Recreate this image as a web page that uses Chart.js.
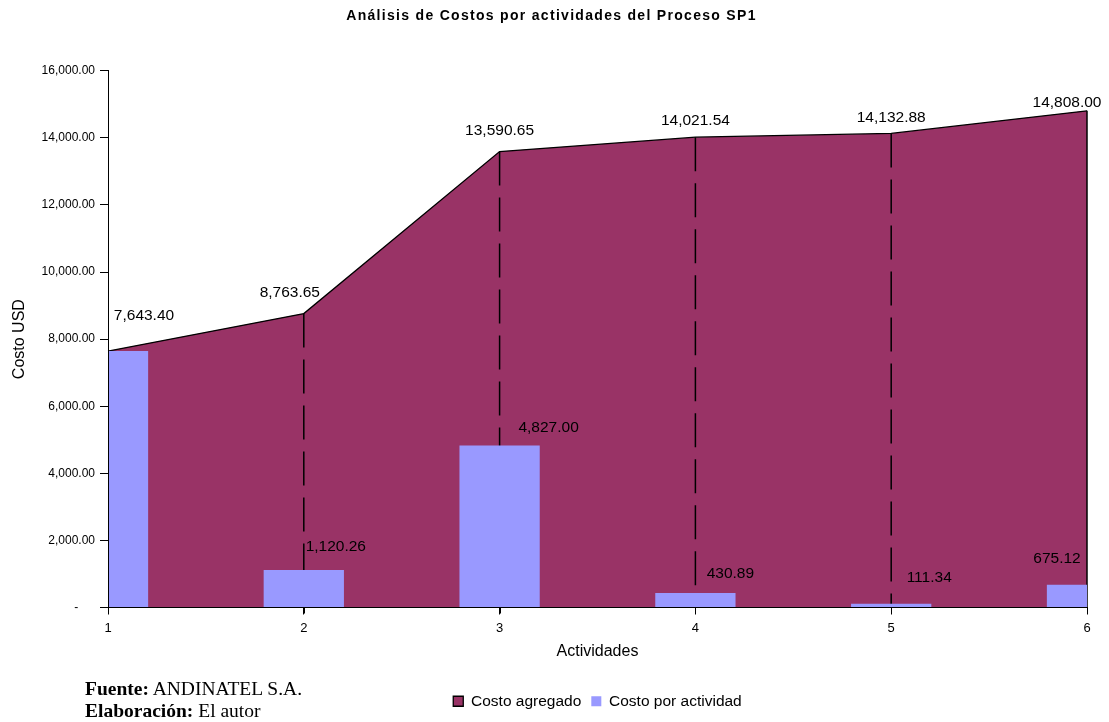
<!DOCTYPE html>
<html><head><meta charset="utf-8">
<script src="https://cdn.jsdelivr.net/npm/chart.js@4.4.1/dist/chart.umd.min.js"></script>
<style>
html,body{margin:0;padding:0;background:#fff;}
#wrap{position:relative;width:1109px;height:722px;}
#note{position:absolute;left:85px;top:678px;font-family:"Liberation Serif","Times New Roman",serif;font-size:19.5px;line-height:22px;color:#000;white-space:nowrap;}
</style></head><body>
<div id="wrap"><canvas id="c" width="1109" height="722"></canvas>
<div id="note"><b>Fuente:</b> ANDINATEL S.A.<br><b>Elaboración:</b> El autor</div></div>
<script>
const categories = ['1', '2', '3', '4', '5', '6'];
const costoAgregado = [7643.40, 8763.65, 13590.65, 14021.54, 14132.88, 14808.00];
const costoActividad = [7643.40, 1120.26, 4827.00, 430.89, 111.34, 675.12];
const seriesNames = ['Costo agregado', 'Costo por actividad'];
const yMin = 0, yMax = 16000, yStep = 2000;

const fmt = v => v.toLocaleString('en-US', {minimumFractionDigits: 2, maximumFractionDigits: 2});
const areaLabelOffset = [[36, -35], [-14, -21], [0, -21], [0, -16], [0, -16], [-20, -8]];
const barLabelOffset = [null, [32, -23], [49, -18], [35, -19], [38, -26], [-30, -26]];

Chart.defaults.font.family = "'Liberation Sans', Arial, sans-serif";
Chart.defaults.color = '#000';

const titleSpacing = {
  id: 'titleSpacing',
  afterLayout(chart) {
    const tb = chart.titleBlock;
    if (tb && !tb._spaced) {
      const orig = tb.draw.bind(tb);
      tb.draw = function (area) {
        const ctx = this.ctx;
        ctx.save();
        ctx.letterSpacing = '1.3px';
        ctx.translate(8, 0);
        orig(area);
        ctx.restore();
      };
      tb._spaced = true;
    }
  }
};

const xTickMarks = {
  id: 'xTickMarks',
  afterDraw(chart) {
    const xs = chart.scales.x;
    const ctx = chart.ctx;
    const y0 = chart.chartArea.bottom;
    ctx.save();
    ctx.strokeStyle = '#000';
    ctx.lineWidth = 1;
    xs.ticks.forEach((t, i) => {
      const x = Math.round(xs.getPixelForTick(i)) + 0.5;
      ctx.beginPath();
      ctx.moveTo(x, y0);
      ctx.lineTo(x, y0 + 6);
      ctx.stroke();
    });
    ctx.restore();
  }
};

const dropLines = {
  id: 'dropLines',
  afterDatasetDraw(chart, args) {
    if (args.index !== 0) return;
    const meta = chart.getDatasetMeta(0);
    const base = chart.scales.y.getPixelForValue(0);
    const ctx = chart.ctx;
    ctx.save();
    ctx.strokeStyle = '#000';
    ctx.lineWidth = 1.5;
    meta.data.forEach((pt, i) => {
      if (i === 0) return;
      ctx.setLineDash(i === meta.data.length - 1 ? [] : [34, 12]);
      ctx.beginPath();
      ctx.moveTo(pt.x, pt.y);
      ctx.lineTo(pt.x, base);
      ctx.stroke();
    });
    ctx.restore();
  }
};

const valueLabels = {
  id: 'valueLabels',
  afterDatasetsDraw(chart) {
    const ctx = chart.ctx;
    ctx.save();
    ctx.font = "15.5px 'Liberation Sans', Arial, sans-serif";
    ctx.fillStyle = '#000';
    ctx.textAlign = 'center';
    ctx.textBaseline = 'middle';
    chart.getDatasetMeta(0).data.forEach((pt, i) => {
      const o = areaLabelOffset[i];
      ctx.fillText(fmt(costoAgregado[i]), pt.x + o[0], pt.y + o[1]);
    });
    chart.getDatasetMeta(1).data.forEach((bar, i) => {
      const o = barLabelOffset[i];
      if (!o) return;
      ctx.fillText(fmt(costoActividad[i]), bar.x + o[0], bar.y + o[1]);
    });
    ctx.restore();
  }
};

new Chart(document.getElementById('c'), {
  data: {
    labels: categories,
    datasets: [
      {
        type: 'line',
        label: seriesNames[0],
        data: costoAgregado,
        fill: 'origin',
        backgroundColor: '#993366',
        borderColor: '#000',
        borderWidth: 1.3,
        pointRadius: 0,
        tension: 0,
        order: 2
      },
      {
        type: 'bar',
        label: seriesNames[1],
        data: costoActividad,
        backgroundColor: '#9999FF',
        borderWidth: 0,
        barPercentage: 0.41,
        categoryPercentage: 1,
        clip: 0,
        order: 1
      }
    ]
  },
  options: {
    responsive: false,
    animation: false,
    events: [],
    layout: {padding: {top: 0, right: 22, bottom: 3, left: 0}},
    plugins: {
      title: {
        display: true,
        text: 'Análisis de Costos por actividades del Proceso SP1',
        color: '#000',
        font: {size: 14, weight: 'bold'},
        padding: {top: 8, bottom: 46}
      },
      legend: {
        position: 'bottom',
        fullSize: false,
        labels: {
          boxWidth: 10, boxHeight: 10, padding: 10, color: '#000', font: {size: 15.5},
          sort: (a, b) => a.datasetIndex - b.datasetIndex
        }
      },
      tooltip: {enabled: false}
    },
    scales: {
      x: {
        type: 'category',
        offset: false,
        grid: {display: true, z: 1, offset: false, drawOnChartArea: false, drawTicks: true, tickLength: 7, tickColor: '#000', tickWidth: 1, color: '#000'},
        border: {color: '#000', width: 1, z: 1},
        ticks: {color: '#000', font: {size: 13}, padding: 6, maxRotation: 0, autoSkip: false},
        title: {display: true, text: 'Actividades', color: '#000', font: {size: 16}, padding: {top: 0, bottom: 22}},
        afterFit(s) { s.height = 76; }
      },
      y: {
        min: yMin,
        max: yMax,
        grid: {display: true, z: 1, drawOnChartArea: false, tickLength: 8, tickColor: '#000', color: '#000'},
        border: {color: '#000', width: 1, z: 1},
        ticks: {
          stepSize: yStep,
          color: '#000',
          font: {size: 12},
          padding: 5,
          callback: v => v === 0 ? '-     ' : fmt(v)
        },
        title: {display: true, text: 'Costo USD', color: '#000', font: {size: 16}, padding: {top: 10, bottom: 0}},
        afterFit(s) { s.width = 108; }
      }
    }
  },
  plugins: [titleSpacing, xTickMarks, dropLines, valueLabels]
});
</script>
</body></html>
